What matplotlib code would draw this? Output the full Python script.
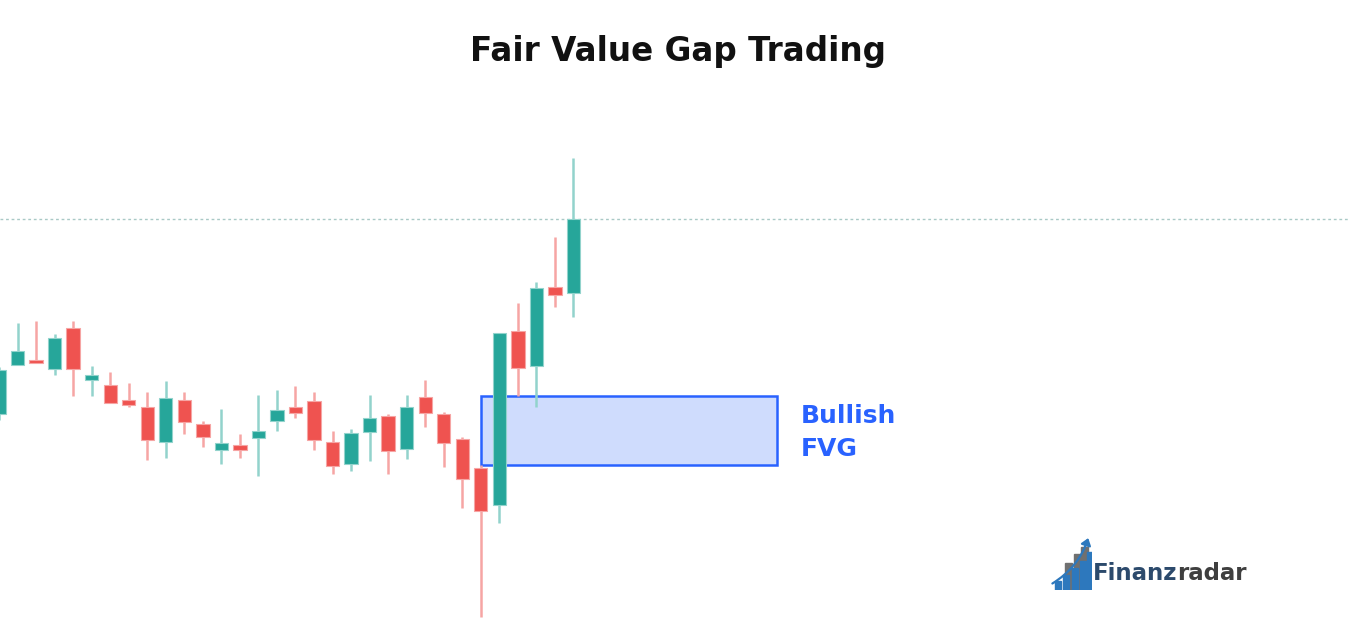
import matplotlib.pyplot as plt
from matplotlib.patches import Rectangle, FancyArrowPatch

# candle data (price units)
opens  = [211, 260, 265, 256, 297, 245, 240, 225, 218, 183, 225, 201, 175, 180, 187, 204,
          218, 224, 183, 161, 193, 209, 176, 228, 211, 186, 157, 120, 294, 259, 338, 332]
closes = [255, 274, 262, 287, 256, 250, 222, 220, 185, 227, 203, 188, 182, 175, 194, 215,
          212, 185, 159, 192, 207, 174, 218, 212, 182, 146, 114, 292, 257, 337, 330, 406]
highs  = [258, 302, 304, 291, 304, 259, 253, 242, 233, 244, 233, 204, 216, 191, 230, 235,
          239, 233, 194, 196, 230, 211, 230, 245, 213, 188, 160, 292, 322, 343, 388, 467]
lows   = [205, 260, 262, 250, 229, 229, 222, 218, 165, 167, 191, 178, 161, 167, 149, 194,
          207, 175, 151, 154, 164, 151, 166, 198, 158, 117, 8, 102, 229, 218, 318, 308]

title = "Fair Value Gap Trading"
fvg_label = ["Bullish", "FVG"]
fvg_start = 26   # candle index where the gap box starts
fvg_end = 42

UP = "#26a69a"
DOWN = "#ef5350"
UP_WICK = "#92d3cc"
DOWN_WICK = "#f6a5a4"
BLUE = "#2962ff"

fig = plt.figure(figsize=(13.5, 6.25), dpi=100)
ax = fig.add_axes([0, 0, 1, 1])
ax.axis('off')
step = 18.53
ax.set_xlim(1 / step, 1351 / step)
ax.set_ylim(0, 625)

# last close dotted line
ax.axhline(closes[-1], color="#a9c9c6", lw=1, ls=(0, (2, 2)), zorder=1)

# fair value gap box: between high of candle 26 and low of candle 28
gap_bottom = highs[fvg_start]
gap_top = lows[fvg_start + 2]
ax.add_patch(Rectangle((fvg_start, gap_bottom), fvg_end - fvg_start, gap_top - gap_bottom,
                       facecolor="#cfdcfd", edgecolor=BLUE, lw=1.8, zorder=2))

bw = 0.72
for i, (o, c, h, l) in enumerate(zip(opens, closes, highs, lows)):
    up = c >= o
    ax.vlines(i, l, h, color=UP_WICK if up else DOWN_WICK, lw=1.8, zorder=3)
    lo, hi = min(o, c), max(o, c)
    ax.add_patch(Rectangle((i - bw / 2, lo), bw, max(hi - lo, 1.5),
                           facecolor=UP if up else DOWN,
                           edgecolor=UP_WICK if up else DOWN_WICK, lw=0.8, zorder=4))

# label lines, baseline-aligned
for k, line in enumerate(fvg_label):
    ax.text(43.25, 202 - 33 * k, line, color=BLUE, fontsize=18, fontweight='bold',
            va='baseline', ha='left')

fig.text(0.502, 0.917, title, fontsize=23.5, fontweight='bold', ha='center', va='center',
         color="#111111")

# logo icon
lax = fig.add_axes([1050 / 1350, 1 - 590 / 625, 42 / 1350, 55 / 625])
lax.set_xlim(0, 10)
lax.set_ylim(0, 13)
lax.axis('off')
for x, h in zip([3.6, 5.6, 7.4], [6.5, 8.5, 10.2]):
    lax.add_patch(Rectangle((x, 0), 1.7, h, color="#707070"))
for x, h in zip([1.2, 3.2, 5.2, 7.2, 8.8], [2.2, 3.6, 5.2, 6.8, 9.0]):
    lax.add_patch(Rectangle((x, 0), 1.4, h, color="#2d78bd"))
lax.add_patch(FancyArrowPatch((0.0, 1.2), (9.3, 12.9), connectionstyle="arc3,rad=0.2",
                              arrowstyle="-|>,head_length=4,head_width=3",
                              color="#2d78bd", lw=1.6))

# logo text
t1 = fig.text(1093 / 1350, 1 - 574 / 625, "Finanz", fontsize=16.5, fontweight='bold',
              color="#2c4a6c", ha='left', va='center')
ax.annotate("radar", xy=(1, 0.5), xycoords=t1, xytext=(0, 0), textcoords='offset points',
            fontsize=16.5, fontweight='bold', color="#3f3f3f",
            ha='left', va='center')

fig.savefig("out.png", dpi=100, facecolor="white")
